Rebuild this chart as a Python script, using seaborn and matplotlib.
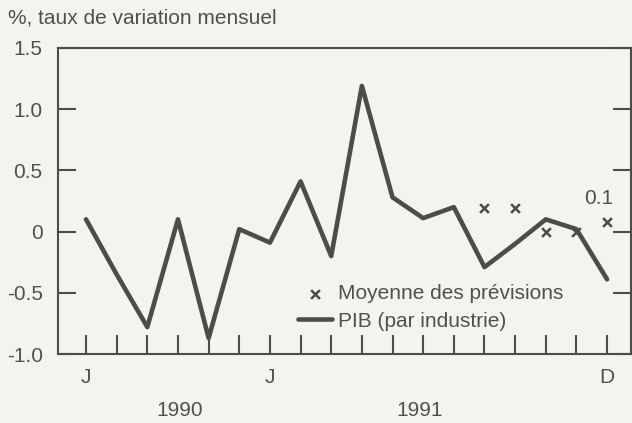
import pandas as pd
import matplotlib.pyplot as plt
import seaborn as sns

sns.set_style('ticks')
plt.rcParams['font.family'] = ['Liberation Sans', 'DejaVu Sans']

# Jul 1990 .. Dec 1991, monthly % change
months = list(range(18))
pib = [0.1, -0.35, -0.78, 0.1, -0.87, 0.02,
       -0.09, 0.41, -0.2, 1.19, 0.28, 0.11, 0.2, -0.29, -0.1, 0.1, 0.02, -0.39]
prev_months = [13, 14, 15, 16, 17]
prev_values = [0.19, 0.19, 0.0, 0.0, 0.08]
month_labels = ['J', '', '', '', '', '', 'J', '', '', '', '', '', '', '', '', '', '', 'D']
yticks = [1.5, 1.0, 0.5, 0, -0.5, -1.0]
ytick_labels = ['1.5', '1.0', '0.5', '0', '-0.5', '-1.0']

df = pd.DataFrame({'mois': months, 'pib': pib})
dfp = pd.DataFrame({'mois': prev_months, 'prev': prev_values})

ink = '#4a4d48'
txt = '#505050'
bg = '#f3f3ef'
fs = 15

fig = plt.figure(figsize=(6.32, 4.23), dpi=100, facecolor=bg)
ax = fig.add_axes([58 / 632, 1 - 354 / 423, 573 / 632, 306 / 423])
ax.set_facecolor(bg)

sns.lineplot(data=df, x='mois', y='pib', ax=ax, color=ink, lw=3.3, label='PIB (par industrie)')
sns.scatterplot(data=dfp, x='mois', y='prev', ax=ax, marker='x', color=ink, s=40,
                linewidth=1.8, label='Moyenne des prévisions', zorder=3)
ax.annotate('0.1', (prev_months[-1], prev_values[-1]), xytext=(-6, 10),
            textcoords='offset points', ha='center', va='bottom', fontsize=fs, color=txt)

ax.set_xlim(-0.914, 17.78)
ax.set_ylim(-1.0, 1.5)
ax.set_xticks(months)
ax.set_xticklabels(month_labels)
ax.set_yticks(yticks)
ax.set_yticklabels(ytick_labels)
ax.set_xlabel('')
ax.set_ylabel('')
ax.tick_params(axis='x', direction='in', length=14, width=1.5, color=ink, pad=10,
               labelsize=fs, labelcolor=txt)
ax.tick_params(axis='y', direction='in', length=13, width=1.5, color=ink, pad=11,
               labelsize=fs, labelcolor=txt, right=True)
for s in ax.spines.values():
    s.set_visible(True)
    s.set_color(ink)
    s.set_linewidth(1.5)

h, l = ax.get_legend_handles_labels()
order = [1, 0]
ax.legend([h[i] for i in order], [l[i] for i in order], loc='center left',
          bbox_to_anchor=(0.419, 0.152), frameon=False, fontsize=fs, handlelength=1.65,
          handletextpad=0.25, labelspacing=0.4, borderpad=0, borderaxespad=0,
          labelcolor=txt)

fig.text(8 / 632, 1 - 18 / 423, '%, taux de variation mensuel', fontsize=fs,
         color=txt, va='center', ha='left')
fig.text(180 / 632, 1 - 410 / 423, '1990', fontsize=fs, color=txt, ha='center', va='center')
fig.text(420 / 632, 1 - 410 / 423, '1991', fontsize=fs, color=txt, ha='center', va='center')

fig.savefig('out.png', dpi=100, facecolor=bg)
